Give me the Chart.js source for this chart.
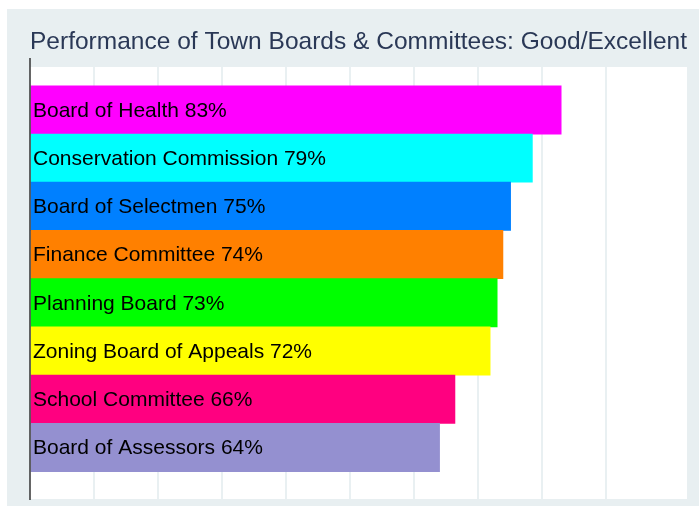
<!DOCTYPE html>
<html>
<head>
<meta charset="utf-8">
<title>Performance of Town Boards & Committees</title>
<script src="https://cdn.jsdelivr.net/npm/chart.js@4"></script>
<style>
    html, body { margin: 0; padding: 0; background: #fff; }
    #wrap { width: 699px; height: 506px; }
</style>
</head>
<body>
<div id="wrap"><canvas id="boardsChart" width="699" height="506"></canvas></div>
<script>
// chart data
const boards = [
    'Board of Health',
    'Conservation Commission',
    'Board of Selectmen',
    'Finance Committee',
    'Planning Board',
    'Zoning Board of Appeals',
    'School Committee',
    'Board of Assessors'
];
const goodExcellent = [83.0, 78.5, 75.1, 73.9, 73.0, 71.9, 66.4, 64.0];
const barColors = ['#ff00ff', '#00ffff', '#0080ff', '#ff8000', '#00ff00', '#ffff00', '#ff0080', '#9490d0'];
const xTicks = [0, 10, 20, 30, 40, 50, 60, 70, 80, 90];

const FONT = "'Liberation Sans', Arial, sans-serif";

// background panel, white plot box, axis line and in-bar labels
const panelPlugin = {
    id: 'panel',
    beforeDraw(chart) {
        const { ctx, chartArea: a, width, height } = chart;
        ctx.save();
        ctx.fillStyle = '#ffffff';
        ctx.fillRect(0, 0, width, height);
        ctx.fillStyle = '#e8eff1';
        ctx.fillRect(7, 9, width - 7, height - 9);
        ctx.fillStyle = '#ffffff';
        ctx.fillRect(a.left, a.top, a.right - a.left, a.bottom - a.top);
        ctx.restore();
    },
    afterDatasetsDraw(chart) {
        const { ctx, chartArea: a } = chart;
        const meta = chart.getDatasetMeta(0);
        ctx.save();
        ctx.font = '21px ' + FONT;
        ctx.fillStyle = '#000000';
        ctx.textBaseline = 'middle';
        meta.data.forEach((bar, i) => {
            const pct = Math.round(goodExcellent[i]);
            ctx.fillText(boards[i] + ' ' + pct + '%', bar.base + 2, bar.y + 1);
        });
        // vertical axis line
        ctx.strokeStyle = '#333333';
        ctx.lineWidth = 1.5;
        ctx.beginPath();
        ctx.moveTo(a.left, a.top - 9);
        ctx.lineTo(a.left, a.bottom + 1);
        ctx.stroke();
        ctx.restore();
    }
};

new Chart(document.getElementById('boardsChart'), {
    type: 'bar',
    data: {
        datasets: [{
            data: goodExcellent.map((v, i) => ({ x: v, y: i })),
            backgroundColor: barColors,
            borderWidth: 0,
            barThickness: 48.3
        }]
    },
    options: {
        indexAxis: 'y',
        responsive: false,
        animation: false,
        layout: { padding: { left: 30, right: 12, top: 0, bottom: 7 } },
        plugins: {
            legend: { display: false },
            tooltip: { enabled: false },
            title: {
                display: true,
                text: 'Performance of Town Boards & Committees: Good/Excellent',
                align: 'start',
                color: '#2a3856',
                font: { size: 24.6, family: FONT, weight: 'normal' },
                padding: { top: 27, bottom: 10.5 }
            }
        },
        scales: {
            x: {
                type: 'linear',
                min: 0,
                max: 102.66,
                afterBuildTicks: scale => { scale.ticks = xTicks.map(v => ({ value: v })); },
                ticks: { display: false },
                border: { display: false },
                grid: {
                    drawTicks: false,
                    lineWidth: 2,
                    color: c => (c.tick && c.tick.value === 0) ? 'rgba(0,0,0,0)' : '#e9f0f2'
                }
            },
            y: {
                type: 'linear',
                reverse: true,
                offset: false,
                min: -0.89,
                max: 8.07,
                display: false
            }
        }
    },
    plugins: [panelPlugin]
});
</script>
</body>
</html>
